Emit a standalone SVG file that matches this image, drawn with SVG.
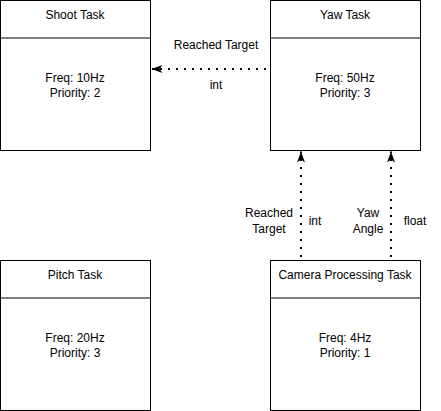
<svg xmlns="http://www.w3.org/2000/svg" width="441" height="411" viewBox="0 0 441 411">
<defs>
<style>
.box{fill:#ffffff;stroke:#000000;stroke-width:1}
.div{stroke:#808080;stroke-width:2}
.t{font-family:"Liberation Sans",Arial,sans-serif;font-size:12px;fill:#000000;text-anchor:middle}
.edge{fill:none;stroke:#000000;stroke-width:2;stroke-dasharray:2 6}
</style>
<marker id="arr" viewBox="0 0 12 10" refX="11" refY="5" markerWidth="12" markerHeight="10" markerUnits="userSpaceOnUse" orient="auto">
<path d="M11,5 L0,1 L3,5 L0,9 Z" fill="#000000"/>
</marker>
</defs>
<rect x="0" y="0" width="441" height="411" fill="#ffffff"/>
<g id="shoot-task">
<rect class="box" x="0.5" y="0.5" width="150" height="150"/>
<line class="div" x1="1" y1="38" x2="150" y2="38"/>
<text class="t" x="75" y="19">Shoot Task</text>
<text class="t" x="75" y="82">Freq: 10Hz</text>
<text class="t" x="75" y="97">Priority: 2</text>
</g>
<g id="yaw-task">
<rect class="box" x="270.5" y="0.5" width="150" height="150"/>
<line class="div" x1="271" y1="38" x2="420" y2="38"/>
<text class="t" x="345" y="19">Yaw Task</text>
<text class="t" x="345" y="82">Freq: 50Hz</text>
<text class="t" x="345" y="97">Priority: 3</text>
</g>
<g id="pitch-task">
<rect class="box" x="0.5" y="260.5" width="150" height="150"/>
<line class="div" x1="1" y1="298" x2="150" y2="298"/>
<text class="t" x="75" y="279">Pitch Task</text>
<text class="t" x="75" y="342">Freq: 20Hz</text>
<text class="t" x="75" y="357">Priority: 3</text>
</g>
<g id="camera-processing-task">
<rect class="box" x="270.5" y="260.5" width="150" height="150"/>
<line class="div" x1="271" y1="298" x2="420" y2="298"/>
<text class="t" x="345" y="279">Camera Processing Task</text>
<text class="t" x="345" y="342">Freq: 4Hz</text>
<text class="t" x="345" y="357">Priority: 1</text>
</g>
<g id="connectors">
<line class="edge" x1="266" y1="69" x2="151.5" y2="69" marker-end="url(#arr)"/>
<line class="edge" x1="301" y1="257" x2="301" y2="151.5" marker-end="url(#arr)"/>
<line class="edge" x1="391" y1="257" x2="391" y2="151.5" marker-end="url(#arr)"/>
<text class="t" x="216" y="49">Reached Target</text>
<text class="t" x="216" y="89">int</text>
<text class="t" x="269" y="217">Reached</text>
<text class="t" x="269" y="233">Target</text>
<text class="t" x="315" y="225">int</text>
<text class="t" x="368" y="217">Yaw</text>
<text class="t" x="368" y="233">Angle</text>
<text class="t" x="415" y="225">float</text>
</g>
</svg>
